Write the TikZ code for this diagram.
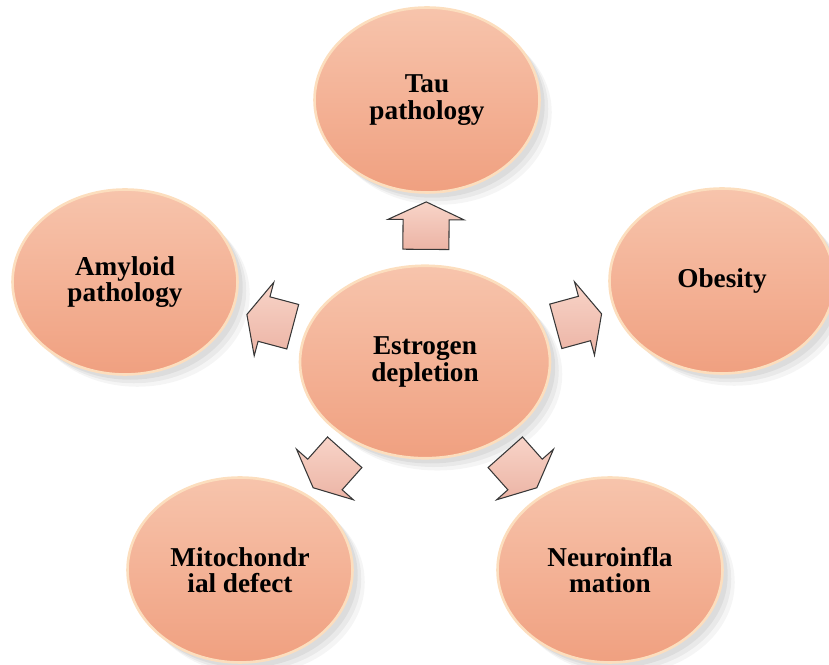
\documentclass[tikz,border=0pt]{standalone}
\usepackage{fontspec}
\setmainfont{Liberation Serif}
\usetikzlibrary{shapes.geometric,shapes.arrows,shadows}

\definecolor{peachtop}{RGB}{247,196,172}
\definecolor{peachmid}{RGB}{244,178,150}
\definecolor{peachbot}{RGB}{240,160,128}
\definecolor{peachrim}{RGB}{252,222,190}
\definecolor{pinktop}{RGB}{248,212,200}
\definecolor{pinkbot}{RGB}{236,180,165}
\definecolor{arrowrim}{RGB}{55,55,55}

\begin{document}
\begin{tikzpicture}[x=0.02cm,y=-0.02cm]
     % Define styles
     \tikzstyle{blob} = [ellipse, inner sep=0pt, minimum width=4.5cm, minimum height=3.7cm,
          top color=peachtop, middle color=peachmid, bottom color=peachbot,
          draw=peachrim, line width=1.5pt,
          drop shadow={shadow xshift=7pt, shadow yshift=-7pt, opacity=0.08},
          drop shadow={shadow xshift=5pt, shadow yshift=-5pt, opacity=0.1},
          drop shadow={shadow xshift=3pt, shadow yshift=-3pt, opacity=0.12},
          align=center, font=\fontsize{15.5}{15}\selectfont\bfseries]
     \tikzstyle{push} = [single arrow, inner xsep=0pt, inner ysep=0.45cm, minimum height=0.95cm,
          single arrow head extend=0.3cm, single arrow tip angle=130,
          top color=pinktop, bottom color=pinkbot, draw=arrowrim, line width=0.6pt,
          sloped, allow upside down, midway]

     \useasboundingbox (0,0) rectangle (829,665);

     % Center circle
     \node[blob, minimum width=5cm, minimum height=3.85cm] (est) at (425,362) {Estrogen\\depletion};

     % Outer circles
     \node[blob] (tau)   at (427,100) {Tau\\pathology};
     \node[blob] (amyl)  at (125,282) {Amyloid\\pathology};
     \node[blob] (obes)  at (722,281) {Obesity};
     \node[blob] (mito)  at (240,570) {Mitochondr\\ial defect};
     \node[blob] (neuro) at (610,570) {Neuroinfla\\mation};

     % Block arrows
     \path (est.center) -- (tau.center)   node[push] (ar-tau) {};
     \path (est.center) -- (amyl.center)  node[push] (ar-amyl) {};
     \path (est.center) -- (obes.center)  node[push] (ar-obes) {};
     \path (est.center) -- (mito.center)  node[push] (ar-mito) {};
     \path (est.center) -- (neuro.center) node[push] (ar-neuro) {};

\end{tikzpicture}
\end{document}
